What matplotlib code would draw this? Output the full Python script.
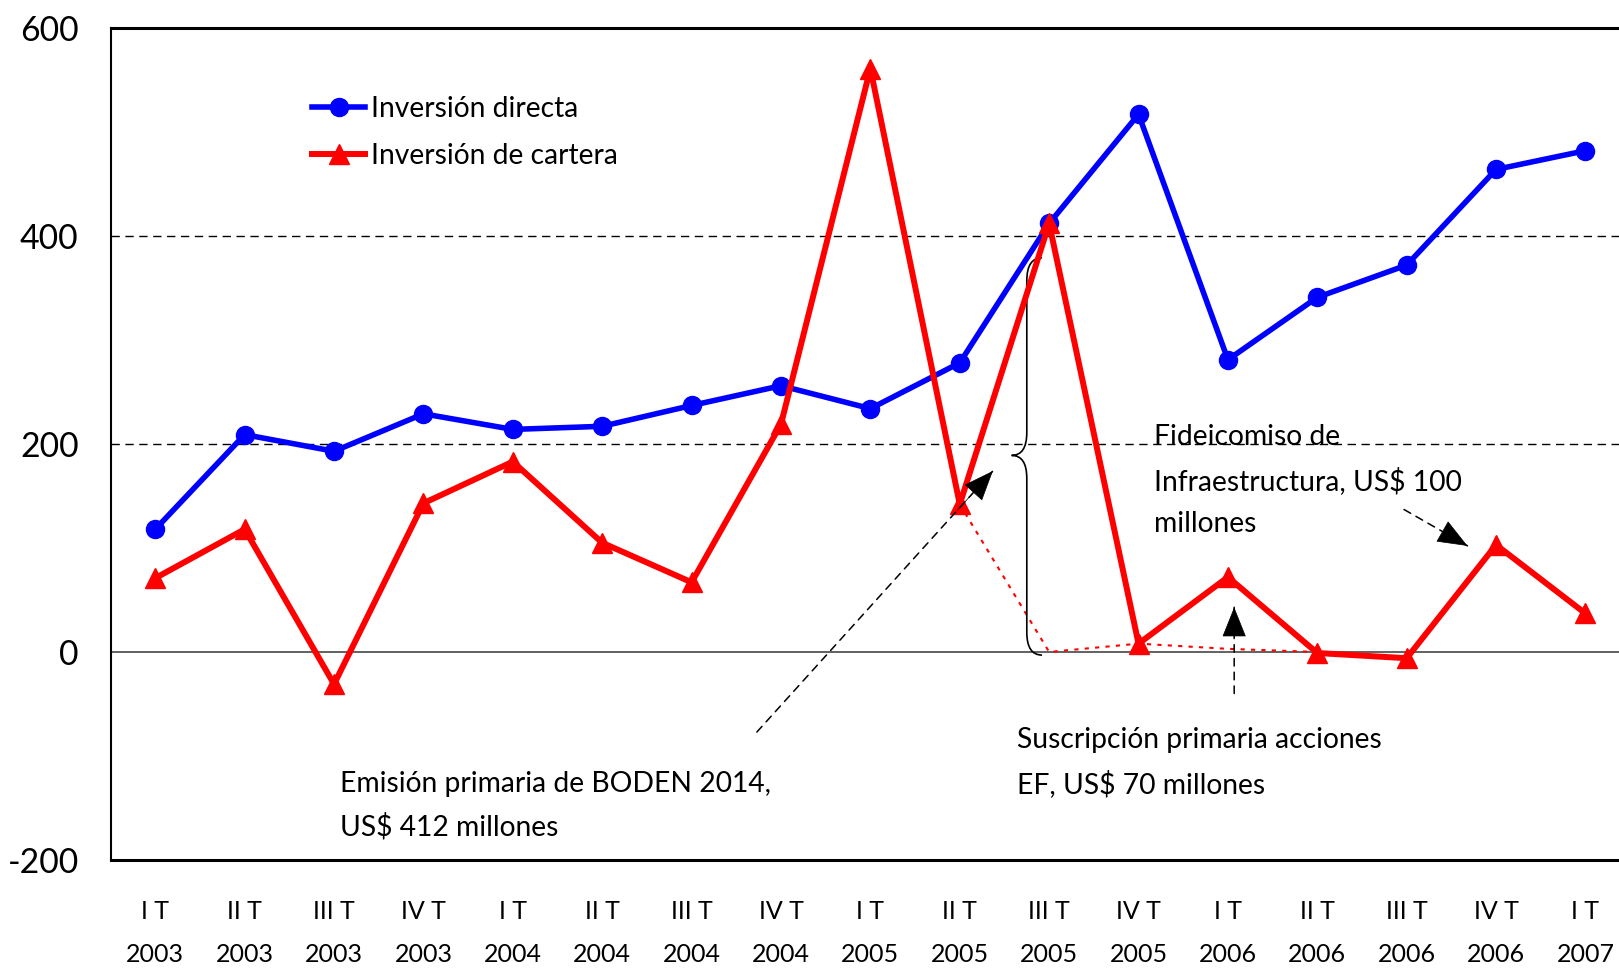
import matplotlib
matplotlib.use('Agg')
import matplotlib.pyplot as plt
from matplotlib.path import Path
from matplotlib.patches import PathPatch
import numpy as np

plt.rcParams['font.family'] = ['Lato', 'DejaVu Sans']

# Trimestres
trimestres = ['I T', 'II T', 'III T', 'IV T'] * 4 + ['I T']
anios = ['2003'] * 4 + ['2004'] * 4 + ['2005'] * 4 + ['2006'] * 4 + ['2007']

# Inversión directa y de cartera (US$ millones)
inv_directa = [118, 209, 193, 229, 214, 217, 237, 256, 234, 278,
               412, 517, 281, 341, 372, 464, 482]
inv_cartera = [71, 118, -31, 143, 183, 105, 67, 219, 561, 142,
               412, 8, 72, -1, -6, 103, 37]

# Serie punteada (cartera sin operaciones extraordinarias)
idx_punteada = [9, 10, 11, 12, 13]
val_punteada = [142, 0, 8, 3, 0]

x = np.arange(len(inv_directa))

fig = plt.figure(figsize=(16.19, 9.68), dpi=100)
ax = fig.add_axes([0.0683, 0.1116, 0.9386, 0.8595])

# Lineas de referencia
for yv in [200, 400]:
    ax.axhline(yv, color='black', lw=1, ls=(0, (6, 4)), zorder=1)
ax.axhline(0, color='#555555', lw=1.3, zorder=1)

ax.plot(idx_punteada, val_punteada, color='red', lw=1.5, ls=(0, (2, 3)), zorder=2)

ax.plot(x, inv_directa, color='blue', lw=4, marker='o', markersize=13,
        label='Inversión directa', zorder=3)
ax.plot(x, inv_cartera, color='red', lw=4.3, marker='^', markersize=14,
        label='Inversión de cartera', zorder=4)

# Llave
xl, xe, xt = 9.75, 9.92, 9.58
yt, ym, yb, d = 379, 189, -3, 22
verts = [(xe, yt), (xl, yt), (xl, yt - d), (xl, ym + d), (xl, ym), (xt, ym),
         (xl, ym), (xl, ym - d), (xl, yb + d), (xl, yb), (xe, yb)]
codes = [Path.MOVETO, Path.CURVE3, Path.CURVE3, Path.LINETO, Path.CURVE3, Path.CURVE3,
         Path.CURVE3, Path.CURVE3, Path.LINETO, Path.CURVE3, Path.CURVE3]
ax.add_patch(PathPatch(Path(verts, codes), facecolor='none', edgecolor='black', lw=1.2, zorder=2))


# Flechas: linea punteada + punta solida
def flecha(xy, xytext):
    ax.annotate('', xy=xy, xytext=xytext, zorder=5,
                arrowprops=dict(arrowstyle='-', color='black', lw=1.1, ls=(0, (5, 4)),
                                shrinkA=0, shrinkB=0))
    back = (xy[0] + (xytext[0] - xy[0]) * 0.15, xy[1] + (xytext[1] - xy[1]) * 0.15)
    ax.annotate('', xy=xy, xytext=back, zorder=6,
                arrowprops=dict(arrowstyle='-|>,head_length=0.5,head_width=0.2',
                                mutation_scale=40, color='black', lw=0.5,
                                shrinkA=0, shrinkB=0))


flecha((9.37, 174), (6.73, -77))
flecha((14.68, 102), (13.97, 137))
flecha((12.07, 43), (12.07, -40))

# Textos
fs_txt = 20.3
ax.text(2.07, -114, 'Emisión primaria de BODEN 2014,\nUS$ 412 millones', fontsize=fs_txt,
        va='top', ha='left', linespacing=1.75)
ax.text(9.64, -72, 'Suscripción primaria acciones\nEF, US$ 70 millones', fontsize=fs_txt,
        va='top', ha='left', linespacing=1.75)
ax.text(11.17, 219, 'Fideicomiso de\nInfraestructura, US$ 100\nmillones', fontsize=fs_txt,
        va='top', ha='left', linespacing=1.75)

ax.set_xlim(-0.5, 16.5)
ax.set_ylim(-200, 600)
ax.set_yticks([-200, 0, 200, 400, 600])
ax.set_yticklabels(['-200', '0', '200', '400', '600'], fontsize=24.3)
ax.set_xticks(x)
ax.set_xticklabels([t + '\n' + a for t, a in zip(trimestres, anios)], fontsize=18,
                   linespacing=2.04)
ax.tick_params(axis='both', length=0)
ax.tick_params(axis='y', pad=23)
ax.tick_params(axis='x', pad=29)

ax.spines['right'].set_visible(False)
ax.spines['top'].set_linewidth(2.2)
ax.spines['bottom'].set_linewidth(2.2)
ax.spines['left'].set_linewidth(1.5)

ax.legend(loc='upper left', bbox_to_anchor=(0.125, 0.932), frameon=False, fontsize=20.3,
          handlelength=1.9, handletextpad=0.2, labelspacing=0.75, borderaxespad=0)

fig.savefig('out.png', dpi=100)
